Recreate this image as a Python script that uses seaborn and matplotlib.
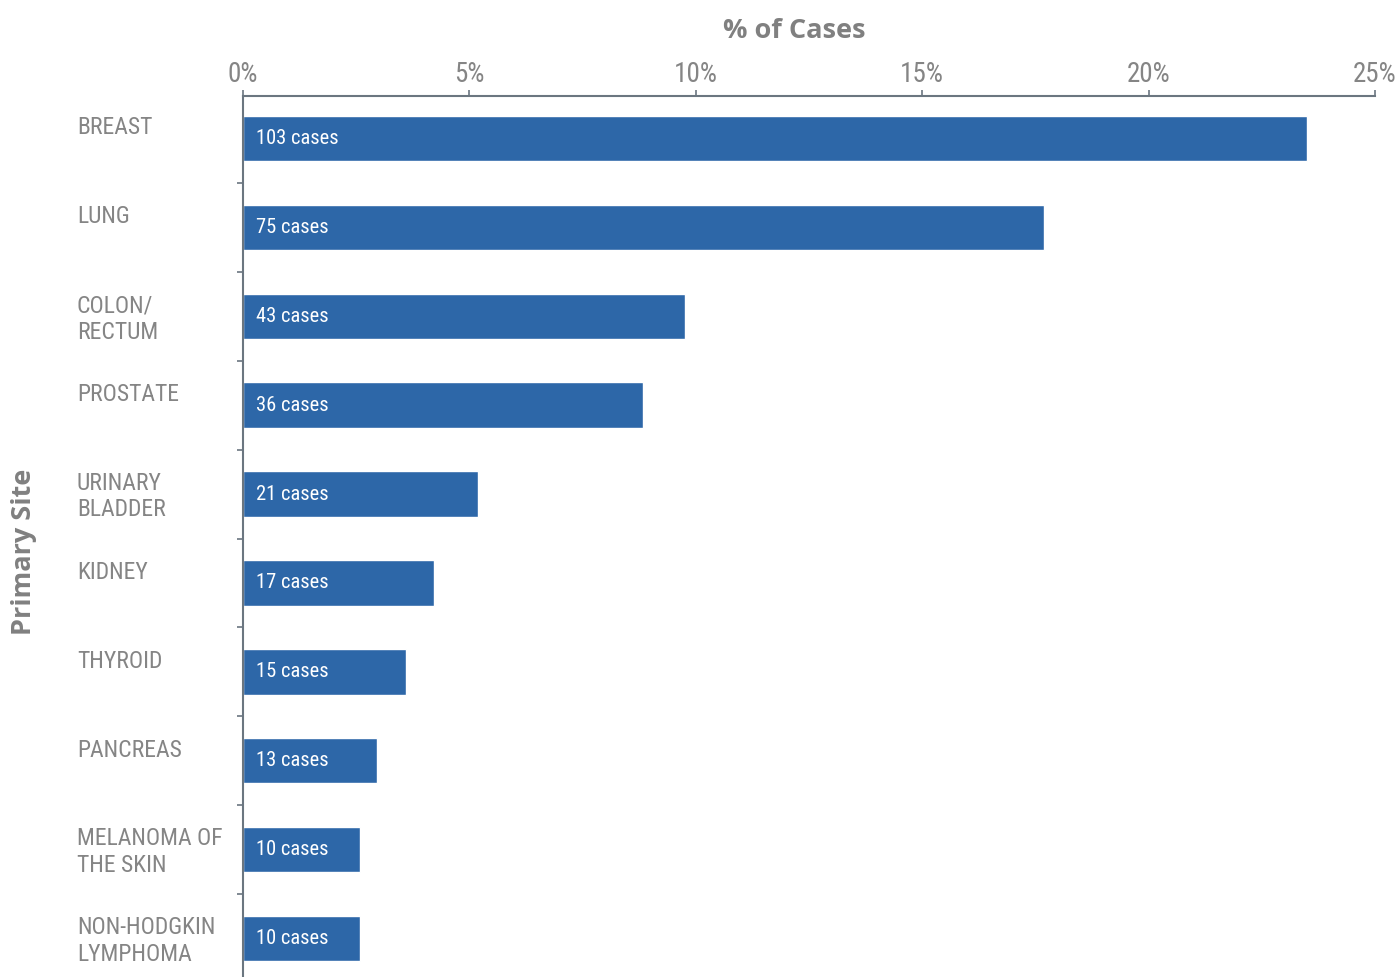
import matplotlib
matplotlib.use("Agg")
import matplotlib.pyplot as plt
from matplotlib import font_manager
import seaborn as sns
import pandas as pd

sites = ["BREAST", "LUNG", "COLON/\nRECTUM", "PROSTATE", "URINARY\nBLADDER", "KIDNEY",
         "THYROID", "PANCREAS", "MELANOMA OF\nTHE SKIN", "NON-HODGKIN\nLYMPHOMA"]
pct = [23.5, 17.7, 9.76, 8.83, 5.19, 4.22, 3.6, 2.96, 2.58, 2.58]
cases = [103, 75, 43, 36, 21, 17, 15, 13, 10, 10]
xticks = [0, 5, 10, 15, 20, 25]
xticklabels = ["0%", "5%", "10%", "15%", "20%", "25%"]

df = pd.DataFrame({"site": sites, "pct": pct, "cases": cases})

sns.set_theme(style="white")
names = {f.name for f in font_manager.fontManager.ttflist}
narrow = next((n for n in ["Roboto Condensed", "Archivo Narrow", "Liberation Sans Narrow",
                           "Liberation Sans"] if n in names), "DejaVu Sans")
plt.rcParams["font.family"] = [narrow, "DejaVu Sans"]

W, H = 1399, 977
fig = plt.figure(figsize=(W / 100, H / 100), dpi=100)
ax = fig.add_axes([243 / W, 0, (1375 - 243) / W, (977 - 96) / H])

bar_color = "#2d67a8"
sns.barplot(data=df, x="pct", y="site", orient="h", color=bar_color, width=0.51,
            saturation=1, ax=ax)

ax.set_xlim(0, 25)
ax.set_ylim(9.433, -0.478)

ax.xaxis.tick_top()
ax.set_xticks(xticks)
ax.set_xticklabels(xticklabels, fontsize=19.5, color="#858585")
ax.tick_params(axis="x", length=4, width=1.2, color="#6b7680", pad=2, direction="out")

# y ticks at category boundaries, no labels
ax.set_yticks([i + 0.5 for i in range(len(sites) - 1)])
ax.set_yticklabels([])
ax.tick_params(axis="y", length=4, width=1.2, color="#6b7680", direction="out", left=True)

for s in ["right", "bottom"]:
    ax.spines[s].set_visible(False)
for s in ["top", "left"]:
    ax.spines[s].set_color("#6b7680")
    ax.spines[s].set_linewidth(1.5)

ax.set_xlabel("")
ax.set_ylabel("")
fig.text(794.5 / W, 1 - 31 / H, "% of Cases", fontsize=19.5, color="#808080",
         fontweight="bold", family=["Open Sans", "DejaVu Sans"], ha="center", va="center")
fig.text(24 / W, 1 - 552 / H, "Primary Site", rotation=90, fontsize=19.5, color="#808080",
         fontweight="bold", family=["Open Sans", "DejaVu Sans"], ha="center", va="center")

# category labels
for i, s in enumerate(sites):
    ax.text(-166 / 45.28, i - 0.25, s, ha="left", va="top", fontsize=17,
            color="#858585", linespacing=1.2, clip_on=False)

# bar labels
for i, c in enumerate(cases):
    ax.text(13 / 45.28, i, f"{c} cases", ha="left", va="center", fontsize=14.8,
            color="white")

fig.savefig("out.png", dpi=100)
